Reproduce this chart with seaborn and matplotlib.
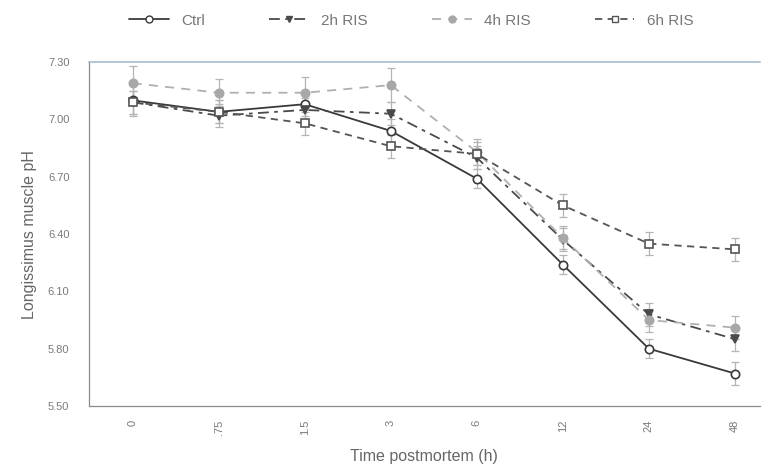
import numpy as np
import pandas as pd
import matplotlib
matplotlib.use("Agg")
import matplotlib.pyplot as plt
import seaborn as sns

# Sampling times postmortem (h) and pH readings per treatment
times = ["0", ".75", "1.5", "3", "6", "12", "24", "48"]
ctrl = [7.10, 7.04, 7.08, 6.94, 6.69, 6.24, 5.80, 5.67]
ris_2h = [7.09, 7.02, 7.05, 7.03, 6.80, 6.37, 5.98, 5.85]
ris_4h = [7.19, 7.14, 7.14, 7.18, 6.83, 6.38, 5.95, 5.91]
ris_6h = [7.09, 7.04, 6.98, 6.86, 6.82, 6.55, 6.35, 6.32]

# Standard errors
ctrl_se = [0.08, 0.06, 0.06, 0.06, 0.05, 0.05, 0.05, 0.06]
ris_2h_se = [0.06, 0.06, 0.06, 0.06, 0.06, 0.06, 0.06, 0.06]
ris_4h_se = [0.09, 0.07, 0.08, 0.09, 0.07, 0.06, 0.06, 0.06]
ris_6h_se = [0.06, 0.06, 0.06, 0.06, 0.06, 0.06, 0.06, 0.06]

groups = ["Ctrl", "2h RIS", "4h RIS", "6h RIS"]
values = [ctrl, ris_2h, ris_4h, ris_6h]
errors = [ctrl_se, ris_2h_se, ris_4h_se, ris_6h_se]

styles = {
    "Ctrl":   dict(color="#3a3a3a", ls="-",  marker="o", mfc="white", mec="#3a3a3a", dash=None),
    "2h RIS": dict(color="#4a4a4a", ls="--", marker="v", mfc="#4a4a4a", mec="#4a4a4a", dash=(6, 3, 2, 3)),
    "4h RIS": dict(color="#b0b0b0", ls="--", marker="o", mfc="#a8a8a8", mec="#a8a8a8", dash=(5, 4)),
    "6h RIS": dict(color="#555555", ls="--", marker="s", mfc="white", mec="#555555", dash=(4, 3)),
}

rows = []
for g, v, e in zip(groups, values, errors):
    for i, (t, y, s) in enumerate(zip(times, v, e)):
        rows.append(dict(group=g, pos=i, time=t, ph=y, se=s))
df = pd.DataFrame(rows)

sns.set_style("white")
plt.rcParams["font.family"] = ["Liberation Sans", "DejaVu Sans"]

fig = plt.figure(figsize=(7.66, 4.71), dpi=100)
ax = fig.add_axes([0.116, 0.138, 0.876, 0.730])

for g in groups:
    st = styles[g]
    sub = df[df["group"] == g]
    ax.errorbar(sub["pos"], sub["ph"], yerr=sub["se"], fmt="none",
                ecolor="#b5b5b5", elinewidth=0.9, capsize=3, capthick=0.9, zorder=1)
    kw = dict(dashes=st["dash"]) if st["dash"] else {}
    line = sns.lineplot(data=sub, x="pos", y="ph", ax=ax, color=st["color"],
                        marker=st["marker"], markersize=6, markerfacecolor=st["mfc"],
                        markeredgecolor=st["mec"], markeredgewidth=1.2,
                        linewidth=1.3, label=g, legend=False, zorder=3)
    ln = ax.lines[-1]
    if st["dash"]:
        ln.set_dashes(st["dash"])

ax.set_xlim(-0.51, 7.29)
ax.set_ylim(5.50, 7.30)
ax.set_xticks(range(len(times)))
ax.set_xticklabels(times, rotation=90, fontsize=8, color="#7a7a7a")
yt = [5.50, 5.80, 6.10, 6.40, 6.70, 7.00, 7.30]
ax.set_yticks(yt)
ax.set_yticklabels([f"{v:.2f}" for v in yt], fontsize=8, color="#7a7a7a")
ax.tick_params(direction="in", length=4, color="#888888", width=0.8, pad=14)
ax.tick_params(axis="x", pad=10)

ax.set_xlabel("Time postmortem (h)", fontsize=11.5, color="#666666", labelpad=10)
ax.set_ylabel("Longissimus muscle pH", fontsize=11.5, color="#666666", labelpad=8)

for side in ["left", "bottom"]:
    ax.spines[side].set_color("#8a8a8a")
    ax.spines[side].set_linewidth(0.9)
ax.spines["top"].set_color("#a9bccc")
ax.spines["top"].set_linewidth(1.2)
ax.spines["right"].set_visible(False)

handles = ax.lines
from matplotlib.lines import Line2D
leg_handles = []
for g in groups:
    st = styles[g]
    leg_handles.append(Line2D([], [], color=st["color"], marker=st["marker"], markersize=5,
                              markerfacecolor=st["mfc"], markeredgecolor=st["mec"],
                              linewidth=1.3, dashes=st["dash"] if st["dash"] else (None, None)))
fig.legend(leg_handles, groups, loc="upper center", bbox_to_anchor=(0.537, 1.0), ncol=4,
           frameon=False, fontsize=11, handlelength=2.6, columnspacing=4.2,
           labelcolor="#777777")

fig.savefig("out.png", dpi=100, facecolor="white")
